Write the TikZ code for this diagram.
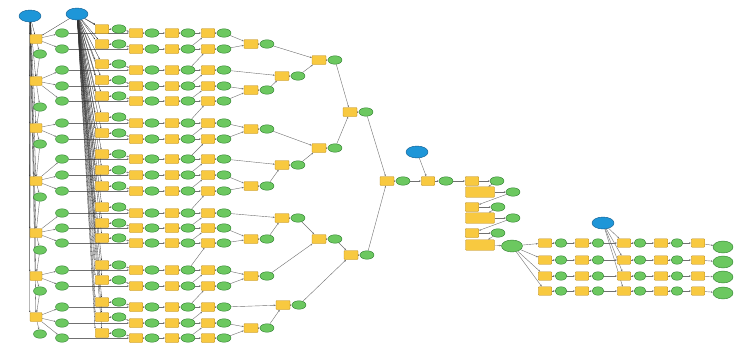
\documentclass[tikz,border=0pt]{standalone}
\usetikzlibrary{arrows.meta,shapes.geometric,backgrounds}
\definecolor{ybox}{HTML}{F8C940}
\definecolor{yedge}{HTML}{B8891A}
\definecolor{gell}{HTML}{6CC860}
\definecolor{gedge}{HTML}{2E7D2E}
\definecolor{bell}{HTML}{1E96D8}
\definecolor{bedge}{HTML}{0E5A8E}
\definecolor{conn}{HTML}{707070}
\begin{document}
\begin{tikzpicture}[x=1pt,y=-1pt,
 tool/.style={draw=yedge,fill=ybox,line width=0.4pt,minimum width=13.5pt,minimum height=9pt,inner sep=0pt,rounded corners=0.8pt},
 wtool/.style={tool,minimum width=29pt,minimum height=10.5pt},
 data/.style={ellipse,draw=gedge,fill=gell,line width=0.4pt,minimum width=14pt,minimum height=8.5pt,inner sep=0pt},
 bdata/.style={data,minimum width=21pt,minimum height=12pt},
 src/.style={ellipse,draw=bedge,fill=bell,line width=0.4pt,minimum width=22pt,minimum height=12pt,inner sep=0pt},
 link/.style={draw=conn,line width=0.4pt,-{Stealth[length=2pt,width=1.6pt]}},
 fan/.style={draw=black!80,line width=0.3pt,-{Stealth[length=1.6pt,width=1.3pt]}}
]
\useasboundingbox (0,0) rectangle (737,354);

% sources
\node[src] (A) at (30,16) {};
\node[src] (B) at (77,14) {};
\node[src] (C) at (417,152) {};
\node[src] (D) at (603,223) {};

% column 1
\foreach \k/\y/\dy in {1/39/54,2/81/107,3/128/144,4/181/197,5/233/250,6/276/291,7/317/334}{
 \node[tool,minimum width=12pt] (c\k) at (36,\y) {};
 \node[data,minimum width=13pt] (d\k) at (40,\dy) {};
}

% rows
\foreach \i/\by/\cy in {1/29/33,2/44/49,3/64/70,4/80/86,5/96/101,6/117/123,7/133/139,8/154/159,9/170/175,10/186/191,11/207/213,12/223/228,13/238/243,14/265/270,15/280/286,16/302/307,17/317/323,18/333/338}{
 \node[data,minimum width=13pt] (cg-\i) at (62,\cy) {};
 \node[tool] (b1-\i) at (102,\by) {};
 \node[data] (g1-\i) at (119,\by) {};
 \node[tool] (b2-\i) at (136,\cy) {};
 \node[data] (g2-\i) at (152,\cy) {};
 \node[tool] (b3-\i) at (172,\cy) {};
 \node[data] (g3-\i) at (188,\cy) {};
 \node[tool] (b4-\i) at (208,\cy) {};
 \node[data] (g4-\i) at (224,\cy) {};
}

% merge tree
\foreach \n/\x/\y in {L1a/251/44,L1b/251/90,L1c/251/129,L1d/251/186,L1e/251/239,L1f/251/276,L1g/251/328,
 L2a/282/76,L2b/282/165,L2c/282/218,L2d/283/305,L3a/319/60,L3b/319/148,L3c/319/239,L4a/350/112,L4b/351/255,L5/387/181}{
 \node[tool,minimum width=14pt] (\n) at (\x,\y) {};
 \node[data] (o\n) at (\x+16,\y) {};
}

% middle section
\node[tool] (P1) at (428,181) {};
\node[data] (H) at (446,181) {};
\node[tool] (Q1) at (472,181) {};
\node[data] (J1) at (497,181) {};
\node[wtool] (W1) at (480,192) {};
\node[data] (K1) at (513,192) {};
\node[tool] (Q2) at (472,207) {};
\node[data] (J2) at (498,207) {};
\node[wtool] (W2) at (480,218) {};
\node[data] (K2) at (513,218) {};
\node[tool] (Q3) at (472,233) {};
\node[data] (J3) at (498,233) {};
\node[wtool] (W3) at (480,245) {};
\node[bdata] (BG) at (512,246) {};

% right section
\foreach \j/\y/\f in {1/243/247,2/260/262,3/276/277,4/291/293}{
 \node[tool,minimum height=8.5pt] (R1-\j) at (545,\y) {};
 \node[data,minimum width=12pt] (G1-\j) at (561,\y) {};
 \node[tool,minimum height=8.5pt] (R2-\j) at (582,\y) {};
 \node[data,minimum width=12pt] (G2-\j) at (598,\y) {};
 \node[tool,minimum height=8.5pt] (R3-\j) at (624,\y) {};
 \node[data,minimum width=12pt] (G3-\j) at (640,\y) {};
 \node[tool,minimum height=8.5pt] (R4-\j) at (661,\y) {};
 \node[data,minimum width=12pt] (G4-\j) at (677,\y) {};
 \node[tool,minimum height=8.5pt] (R5-\j) at (698,\y) {};
 \node[bdata,minimum width=20pt] (F-\j) at (723,\f) {};
}

\begin{pgfonlayer}{background}
 \fill[white] (0,0) rectangle (737,354);
 % column 1 chain
 \draw[fan] (B) -- (c1);
 \foreach \k in {1,...,7}{
  \draw[fan] (A) -- (c\k.north west);
  \draw[fan] (A) -- (c\k);
  \draw[link] (c\k) -- (d\k);
 }
 \foreach \k [evaluate=\k as \m using int(\k+1)] in {1,...,6}{
  \draw[link] (d\k) -- (c\m);
 }
 \foreach \i/\p in {1/1,2/1,3/2,4/2,5/2,6/3,7/3,8/4,9/4,10/4,11/5,12/5,13/5,14/6,15/6,16/7,17/7,18/7}{
  \draw[link] (c\p) -- (cg-\i);
 }
 % rows
 \foreach \i in {1,...,18}{
  \draw[fan] (B) -- (b1-\i);
  \draw[fan] (B) -- (b1-\i.north west);
  \draw[link] (b1-\i) -- (g1-\i);
  \draw[link] (g1-\i) -- (b2-\i);
  \draw[link] (cg-\i) -- (b2-\i);
  \draw[link] (b2-\i) -- (g2-\i);
  \draw[link] (g2-\i) -- (b3-\i);
  \draw[link] (b3-\i) -- (g3-\i);
  \draw[link] (g3-\i) -- (b4-\i);
  \draw[link] (b4-\i) -- (g4-\i);
 }
 \foreach \i [evaluate=\i as \j using int(\i+1)] in {1,...,17}{
  \draw[link] (g3-\j) -- (b4-\i);
 }
 % merge tree
 \foreach \n in {L1a,L1b,L1c,L1d,L1e,L1f,L1g,L2a,L2b,L2c,L2d,L3a,L3b,L3c,L4a,L4b,L5}{
  \draw[link] (\n) -- (o\n);
 }
 \foreach \s/\t in {g4-1/L1a,g4-2/L1a,g4-4/L1b,g4-5/L1b,g4-6/L1c,g4-7/L1c,g4-9/L1d,g4-10/L1d,
  g4-12/L1e,g4-13/L1e,g4-14/L1f,g4-15/L1f,g4-17/L1g,g4-18/L1g,
  g4-3/L2a,oL1b/L2a,g4-8/L2b,oL1d/L2b,g4-11/L2c,oL1e/L2c,g4-16/L2d,oL1g/L2d,
  oL1a/L3a,oL2a/L3a,oL1c/L3b,oL2b/L3b,oL2c/L3c,oL1f/L3c,
  oL3a/L4a,oL3b/L4a,oL3c/L4b,oL2d/L4b,oL4a/L5,oL4b/L5}{
  \draw[link] (\s) -- (\t);
 }
 % middle
 \foreach \s/\t in {oL5/P1,C/P1,P1/H,H/Q1,Q1/J1,J1/W1,W1/K1,K1/Q2,Q2/J2,J2/W2,W2/K2,K2/Q3,Q3/J3,J3/W3,W3/BG}{
  \draw[link] (\s) -- (\t);
 }
 % right
 \foreach \j in {1,...,4}{
  \draw[link] (BG) -- (R1-\j);
  \draw[link] (R1-\j) -- (G1-\j);
  \draw[link] (G1-\j) -- (R2-\j);
  \draw[link] (R2-\j) -- (G2-\j);
  \draw[link] (G2-\j) -- (R3-\j);
  \draw[link] (D) -- (R3-\j);
  \draw[link] (R3-\j) -- (G3-\j);
  \draw[link] (G3-\j) -- (R4-\j);
  \draw[link] (R4-\j) -- (G4-\j);
  \draw[link] (G4-\j) -- (R5-\j);
  \draw[link] (R5-\j) -- (F-\j);
 }
\end{pgfonlayer}
\end{tikzpicture}
\end{document}
